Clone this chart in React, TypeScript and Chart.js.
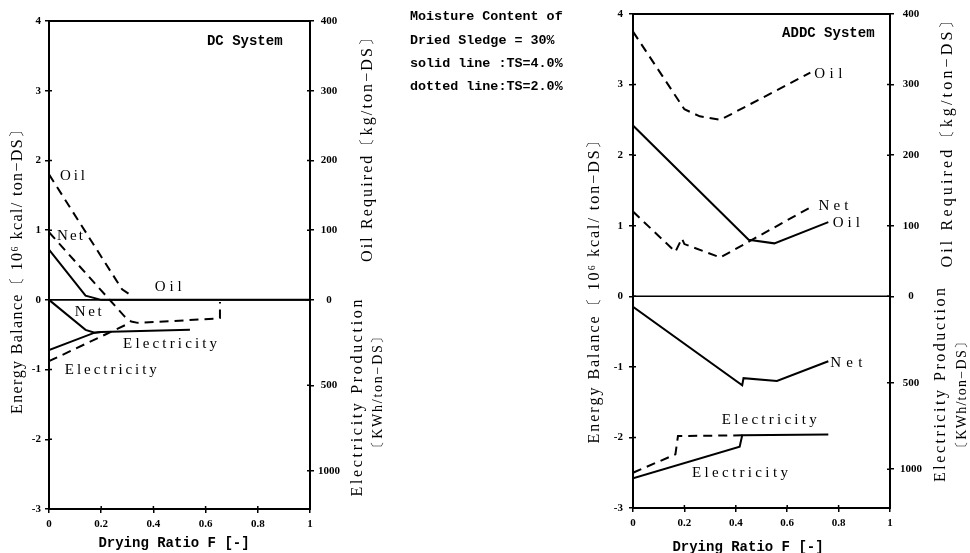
import React, { useEffect, useRef } from 'react';
import { Chart, registerables } from 'chart.js';
Chart.register(...registerables);

// ---------- data (Drying ratio F [-] vs energy balance [10^6 kcal/ton-DS]) ----------
// DC System
const dcOilSolidF = [0, 0.14, 0.2, 1.0];
const dcOilSolidE = [0.72, 0.06, 0.0, 0.0];
const dcOilDashF = [0, 0.28, 0.32];
const dcOilDashE = [1.8, 0.15, 0.05];
const dcNetSolidF = [0, 0.14, 0.175, 0.2];
const dcNetSolidE = [0, -0.43, -0.47, -0.46];
const dcNetDashF = [0, 0.29, 0.315, 0.34, 0.64, 0.655, 0.655];
const dcNetDashE = [0.97, -0.24, -0.31, -0.33, -0.27, -0.26, -0.03];
const dcElecSolidF = [0, 0.175, 0.2, 0.54];
const dcElecSolidE = [-0.72, -0.47, -0.46, -0.43];
const dcElecDashF = [0, 0.22, 0.31];
const dcElecDashE = [-0.88, -0.49, -0.33];

// ADDC System
const adOilSolidF = [0, 0.45, 0.55, 0.76];
const adOilSolidE = [2.42, 0.8, 0.75, 1.05];
const adOilDashF = [0, 0.2, 0.26, 0.34, 0.69];
const adOilDashE = [3.75, 2.65, 2.55, 2.5, 3.17];
const adNetSolidF = [0, 0.425, 0.43, 0.56, 0.76];
const adNetSolidE = [-0.15, -1.26, -1.16, -1.2, -0.92];
const adNetDashF = [0, 0.165, 0.19, 0.2, 0.34, 0.7];
const adNetDashE = [1.2, 0.63, 0.82, 0.74, 0.55, 1.28];
const adElecSolidF = [0, 0.415, 0.425, 0.76];
const adElecSolidE = [-2.58, -2.13, -1.97, -1.96];
const adElecDashF = [0, 0.165, 0.175, 0.43];
const adElecDashE = [-2.5, -2.24, -1.98, -1.97];

// ---------- axes ----------
const xTickLabels = ['0', '0.2', '0.4', '0.6', '0.8', '1'];
const yTickLabels = ['-3', '-2', '-1', '0', '1', '2', '3', '4'];
const oilTicksKg = [400, 300, 200, 100, 0]; // kg/ton-DS, 1 kg oil = 10^4 kcal
const elecTicksKWh = [500, 1000]; // kWh/ton-DS, 1 kWh = 2450 kcal
const OIL_FACTOR = 0.01;
const ELEC_FACTOR = -0.00245;
const rightTickValues = [...oilTicksKg.map(v => v * OIL_FACTOR), ...elecTicksKWh.map(v => v * ELEC_FACTOR)];
const rightTickLabels = [...oilTicksKg, ...elecTicksKWh].map(String);

const annotationLines = [
  'Moisture Content of',
  'Dried Sledge = 30%',
  'solid line :TS=4.0%',
  'dotted line:TS=2.0%',
];

const SERIF = '"Liberation Serif", "DejaVu Serif", serif';
const MONO = '"Liberation Mono", "DejaVu Sans Mono", monospace';

function pts(fs: number[], es: number[]) {
  return fs.map((f, i) => ({ x: f, y: es[i] }));
}

function ds(label: string, fs: number[], es: number[], dashed: boolean) {
  return {
    label,
    data: pts(fs, es),
    borderColor: '#000',
    borderWidth: 2,
    borderDash: dashed ? [9, 6] : [],
    pointRadius: 0,
    tension: 0,
    fill: false,
  };
}

function drawFit(ctx: CanvasRenderingContext2D, text: string, cx: number, cy: number, len: number, font: string, rot: boolean) {
  ctx.save();
  ctx.font = font;
  ctx.fillStyle = '#000';
  ctx.translate(cx, cy);
  if (rot) ctx.rotate(-Math.PI / 2);
  const chars = Array.from(text);
  const ws = chars.map(c => ctx.measureText(c).width);
  const total = ws.reduce((a, b) => a + b, 0);
  const gap = chars.length > 1 ? (len - total) / (chars.length - 1) : 0;
  let x = -len / 2;
  ctx.textAlign = 'left';
  ctx.textBaseline = 'middle';
  chars.forEach((c, i) => {
    ctx.fillText(c, x, 0);
    x += ws[i] + gap;
  });
  ctx.restore();
}

type Panel = {
  datasets: any[];
  padding: { left: number; right: number; top: number; bottom: number };
  system: { text: string; x: number; y: number };
  labels: { text: string; x: number; y: number; len: number }[];
  titles: { text: string; x: number; y: number; len: number; font: string }[];
  xTitle: { x: number; y: number };
  annotation: boolean;
  rightPad: number;
  leftPad: number;
};

const leftPanel: Panel = {
  datasets: [
    ds('Oil 4.0%', dcOilSolidF, dcOilSolidE, false),
    ds('Oil 2.0%', dcOilDashF, dcOilDashE, true),
    ds('Net 4.0%', dcNetSolidF, dcNetSolidE, false),
    ds('Net 2.0%', dcNetDashF, dcNetDashE, true),
    ds('Electricity 4.0%', dcElecSolidF, dcElecSolidE, false),
    ds('Electricity 2.0%', dcElecDashF, dcElecDashE, true),
  ],
  padding: { left: 0, right: 610, top: 21, bottom: 14 },
  system: { text: 'DC System', x: 0.75, y: 3.7 },
  labels: [
    { text: 'Oil', x: 0.09, y: 1.77, len: 25 },
    { text: 'Net', x: 0.08, y: 0.91, len: 26 },
    { text: 'Oil', x: 0.457, y: 0.19, len: 27 },
    { text: 'Net', x: 0.15, y: -0.17, len: 27 },
    { text: 'Electricity', x: 0.464, y: -0.63, len: 94 },
    { text: 'Electricity', x: 0.237, y: -1.01, len: 92 },
  ],
  titles: [
    { text: 'Energy Balance〔 10⁶ kcal/ ton−DS〕', x: 18, y: 268, len: 292, font: `16px ${SERIF}` },
    { text: 'Oil Required〔kg/ton−DS〕', x: 368, y: 146, len: 232, font: `16px ${SERIF}` },
    { text: 'Electricity Production', x: 358, y: 398, len: 197, font: `16px ${SERIF}` },
    { text: '〔KWh/ton−DS〕', x: 378, y: 392, len: 125, font: `14px ${SERIF}` },
  ],
  xTitle: { x: 174, y: 543 },
  annotation: true,
  leftPad: 4,
  rightPad: 4,
};

const rightPanel: Panel = {
  datasets: [
    ds('Oil 4.0%', adOilSolidF, adOilSolidE, false),
    ds('Oil 2.0%', adOilDashF, adOilDashE, true),
    ds('Net 4.0%', adNetSolidF, adNetSolidE, false),
    ds('Net 2.0%', adNetDashF, adNetDashE, true),
    ds('Electricity 4.0%', adElecSolidF, adElecSolidE, false),
    ds('Electricity 2.0%', adElecDashF, adElecDashE, true),
  ],
  padding: { left: 583, right: 30, top: 14, bottom: 15 },
  system: { text: 'ADDC System', x: 0.76, y: 3.73 },
  labels: [
    { text: 'Oil', x: 0.76, y: 3.15, len: 28 },
    { text: 'Net', x: 0.78, y: 1.28, len: 30 },
    { text: 'Oil', x: 0.83, y: 1.04, len: 27 },
    { text: 'Net', x: 0.83, y: -0.95, len: 32 },
    { text: 'Electricity', x: 0.53, y: -1.76, len: 95 },
    { text: 'Electricity', x: 0.416, y: -2.51, len: 96 },
  ],
  titles: [
    { text: 'Energy Balance〔 10⁶ kcal/ ton−DS〕', x: 595, y: 288, len: 311, font: `16px ${SERIF}` },
    { text: 'Oil Required〔kg/ton−DS〕', x: 948, y: 140, len: 255, font: `16px ${SERIF}` },
    { text: 'Electricity Production', x: 941, y: 385, len: 194, font: `16px ${SERIF}` },
    { text: '〔KWh/ton−DS〕', x: 962, y: 395, len: 120, font: `14px ${SERIF}` },
  ],
  xTitle: { x: 748, y: 547 },
  annotation: false,
  leftPad: 6,
  rightPad: 6,
};

function buildConfig(p: Panel): any {
  const tickFont = { family: SERIF, size: 11, weight: 'bold' as const };
  const grid = { drawOnChartArea: false, drawTicks: true, tickLength: 4, color: '#000', lineWidth: 1.5 };
  const border = { color: '#000', width: 2 };
  const decor = {
    id: 'decor',
    afterDraw(chart: any) {
      const ctx: CanvasRenderingContext2D = chart.ctx;
      const a = chart.chartArea;
      const xs = chart.scales.x;
      const ys = chart.scales.y;
      const y2 = chart.scales.y2;
      ctx.save();
      ctx.strokeStyle = '#000';
      ctx.lineWidth = 2;
      ctx.strokeRect(a.left, a.top, a.right - a.left, a.bottom - a.top);
      // zero line
      const y0 = ys.getPixelForValue(0);
      ctx.lineWidth = 1.6;
      ctx.beginPath();
      ctx.moveTo(a.left, y0);
      ctx.lineTo(a.right, y0);
      ctx.stroke();
      // inner tick marks
      ctx.lineWidth = 1.5;
      ctx.beginPath();
      xs.ticks.forEach((t: any) => {
        const px = xs.getPixelForValue(t.value);
        ctx.moveTo(px, a.bottom);
        ctx.lineTo(px, a.bottom - 3);
      });
      ys.ticks.forEach((t: any) => {
        const py = ys.getPixelForValue(t.value);
        ctx.moveTo(a.left, py);
        ctx.lineTo(a.left + 3, py);
      });
      y2.ticks.forEach((t: any) => {
        const py = y2.getPixelForValue(t.value);
        ctx.moveTo(a.right, py);
        ctx.lineTo(a.right - 3, py);
      });
      ctx.stroke();
      ctx.restore();

      // in-plot curve labels
      p.labels.forEach(l => {
        drawFit(ctx, l.text, xs.getPixelForValue(l.x), ys.getPixelForValue(l.y), l.len, `15px ${SERIF}`, false);
      });
      // system name
      ctx.save();
      ctx.fillStyle = '#000';
      ctx.font = `bold 14px ${MONO}`;
      ctx.textAlign = 'center';
      ctx.textBaseline = 'middle';
      ctx.fillText(p.system.text, xs.getPixelForValue(p.system.x), ys.getPixelForValue(p.system.y));
      // x title
      ctx.fillText('Drying Ratio F [-]', p.xTitle.x, p.xTitle.y);
      // annotation
      if (p.annotation) {
        ctx.font = `bold 13.4px ${MONO}`;
        ctx.textAlign = 'left';
        const ys0 = [17, 41, 64, 87];
        annotationLines.forEach((t, i) => ctx.fillText(t, 410, ys0[i]));
      }
      ctx.restore();
      // axis titles
      p.titles.forEach(t => drawFit(ctx, t.text, t.x, t.y, t.len, t.font, true));
    },
  };

  return {
    type: 'line',
    data: { datasets: p.datasets },
    options: {
      responsive: false,
      animation: false,
      events: [],
      layout: { padding: p.padding },
      plugins: { legend: { display: false }, tooltip: { enabled: false } },
      scales: {
        x: {
          type: 'linear',
          min: 0,
          max: 1,
          ticks: {
            stepSize: 0.2,
            autoSkip: false,
            maxRotation: 0,
            padding: 5,
            color: '#000',
            font: tickFont,
            callback: (_v: any, i: number) => xTickLabels[i],
          },
          grid,
          border,
          afterFit: (s: any) => { s.height = 30; },
        },
        y: {
          type: 'linear',
          position: 'left',
          min: -3,
          max: 4,
          ticks: {
            stepSize: 1,
            padding: p.leftPad,
            color: '#000',
            font: tickFont,
            callback: (_v: any, i: number) => yTickLabels[i],
          },
          grid,
          border,
          afterFit: (s: any) => { s.width = p.padding.left === 0 ? 49 : 50; },
        },
        y2: {
          type: 'linear',
          position: 'right',
          min: -3,
          max: 4,
          afterBuildTicks: (s: any) => { s.ticks = rightTickValues.map(v => ({ value: v })); },
          ticks: {
            autoSkip: false,
            padding: p.rightPad,
            crossAlign: 'center',
            color: '#000',
            font: tickFont,
            callback: (_v: any, i: number) => rightTickLabels[i],
          },
          grid,
          border,
          afterFit: (s: any) => { s.width = 50; },
        },
      },
    },
    plugins: [decor],
  };
}

export default function App() {
  const leftRef = useRef<HTMLCanvasElement>(null);
  const rightRef = useRef<HTMLCanvasElement>(null);
  useEffect(() => {
    const c1 = new Chart(leftRef.current as HTMLCanvasElement, buildConfig(leftPanel));
    const c2 = new Chart(rightRef.current as HTMLCanvasElement, buildConfig(rightPanel));
    return () => {
      c1.destroy();
      c2.destroy();
    };
  }, []);
  return (
    <div style={{ position: 'absolute', left: 0, top: 0, width: 970, height: 553, background: '#fff', overflow: 'hidden' }}>
      <canvas ref={leftRef} width={970} height={553} style={{ position: 'absolute', left: 0, top: 0 }} />
      <canvas ref={rightRef} width={970} height={553} style={{ position: 'absolute', left: 0, top: 0 }} />
    </div>
  );
}
